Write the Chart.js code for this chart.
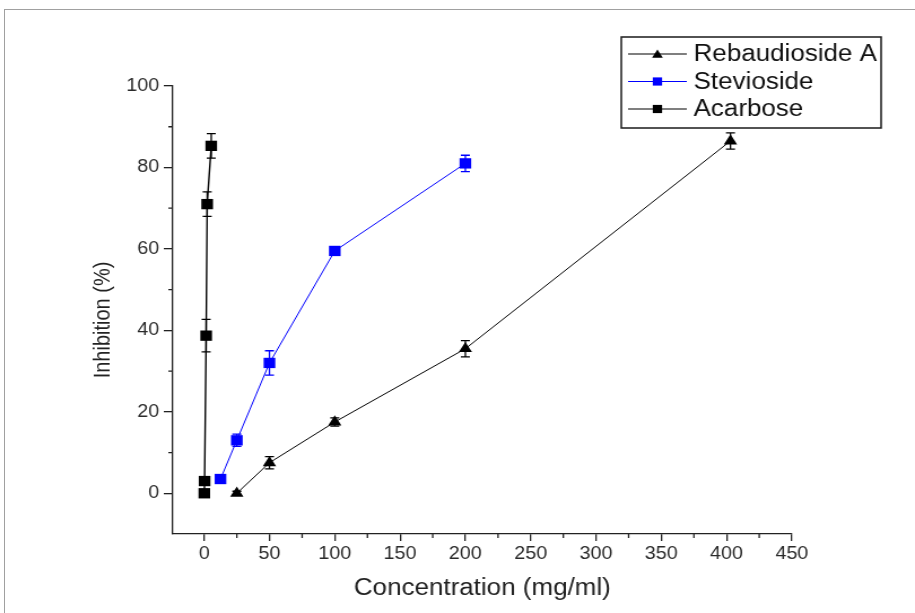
<!DOCTYPE html>
<html>
<head>
<meta charset="utf-8">
<script src="https://cdn.jsdelivr.net/npm/chart.js@4.4.0/dist/chart.umd.min.js"></script>
<style>
    html, body { margin: 0; padding: 0; background: #ffffff; overflow: hidden; }
    #wrap { position: relative; width: 915px; height: 613px; }
    /* 元画像は横に引き伸ばされているので、キャンバスも横に伸ばす */
    #inhibitionChart { position: absolute; left: 0; top: 0; transform: scaleX(1.1296); transform-origin: 0 0; }
    #frame { position: absolute; left: 4px; top: 9px; width: 920px; height: 620px;
             border-top: 1px solid #a0a0a0; border-left: 1px solid #a0a0a0; }
</style>
</head>
<body>
<div id="wrap">
    <canvas id="inhibitionChart" width="810" height="613"></canvas>
    <div id="frame"></div>
</div>
<script>

// Rebaudioside A
var rebaudiosideX = [25, 50, 100, 200, 403];
var rebaudiosideY = [0, 7.5, 17.5, 35.5, 86.5];
var rebaudiosideErr = [0.5, 1.5, 1, 2, 2];

// Stevioside
var steviosideX = [12.5, 25, 50, 100, 200];
var steviosideY = [3.5, 13, 32, 59.5, 81];
var steviosideErr = [0, 1.5, 3, 1, 2];

// Acarbose
var acarboseX = [0.1, 0.3, 1.5, 2.3, 5.4];
var acarboseY = [0, 3, 38.7, 71, 85.3];
var acarboseErr = [0, 0, 4, 3, 3];

var seriesNames = ["Rebaudioside A", "Stevioside", "Acarbose"];

// 目盛り
var xTicks = [0, 50, 100, 150, 200, 250, 300, 350, 400, 450];
var xMinorTicks = [25, 75, 125, 175, 225, 275, 325, 375, 425];
var yTicks = [0, 20, 40, 60, 80, 100];
var yMinorTicks = [10, 30, 50, 70, 90];

var fontFamily = "'Liberation Sans', Arial, sans-serif";
var axisColor = '#222222';

function toPoints(xs, ys) {
    var points = [];
    for (var i = 0; i < xs.length; i++) {
        points.push({ x: xs[i], y: ys[i] });
    }
    return points;
}

// 誤差棒
var errorBarPlugin = {
    id: 'errorBars',
    afterDatasetsDraw: function (chart) {
        var ctx = chart.ctx;
        var xScale = chart.scales.x;
        var yScale = chart.scales.y;
        chart.data.datasets.forEach(function (ds) {
            ctx.save();
            ctx.strokeStyle = ds.borderColor;
            ctx.lineWidth = 1.3;
            for (var i = 0; i < ds.data.length; i++) {
                var e = ds.errors[i];
                if (!e) continue;
                var px = xScale.getPixelForValue(ds.data[i].x);
                var top = yScale.getPixelForValue(ds.data[i].y + e);
                var bottom = yScale.getPixelForValue(ds.data[i].y - e);
                ctx.beginPath();
                ctx.moveTo(px, top);
                ctx.lineTo(px, bottom);
                ctx.moveTo(px - 4, top);
                ctx.lineTo(px + 4, top);
                ctx.moveTo(px - 4, bottom);
                ctx.lineTo(px + 4, bottom);
                ctx.stroke();
            }
            ctx.restore();
        });
    }
};

// 補助目盛り、縦軸タイトル、凡例
var decorPlugin = {
    id: 'decor',
    afterDraw: function (chart) {
        var ctx = chart.ctx;
        var xScale = chart.scales.x;
        var yScale = chart.scales.y;
        var area = chart.chartArea;

        ctx.save();
        ctx.strokeStyle = axisColor;
        ctx.lineWidth = 1.3;
        ctx.beginPath();
        xMinorTicks.forEach(function (v) {
            var px = xScale.getPixelForValue(v);
            ctx.moveTo(px, area.bottom);
            ctx.lineTo(px, area.bottom + 4);
        });
        yMinorTicks.forEach(function (v) {
            var py = yScale.getPixelForValue(v);
            ctx.moveTo(area.left, py);
            ctx.lineTo(area.left - 4, py);
        });
        ctx.stroke();

        // 縦軸タイトル
        ctx.save();
        ctx.translate(91, 320);
        ctx.rotate(-Math.PI / 2);
        ctx.fillStyle = '#222222';
        ctx.font = "20px " + fontFamily;
        ctx.textAlign = 'center';
        ctx.textBaseline = 'middle';
        ctx.fillText('Inhibition (%)', 0, 0);
        ctx.restore();

        // 凡例
        ctx.lineWidth = 1.5;
        ctx.strokeStyle = '#1a1a1a';
        ctx.strokeRect(550, 37, 230, 91);
        var rows = [54, 81.5, 109];
        chart.data.datasets.forEach(function (ds, i) {
            var y = rows[i];
            ctx.strokeStyle = ds.borderColor;
            ctx.lineWidth = 1.2;
            ctx.beginPath();
            ctx.moveTo(556, y);
            ctx.lineTo(608, y);
            ctx.stroke();
            ctx.fillStyle = ds.pointBackgroundColor;
            Chart.helpers.drawPoint(ctx, {
                pointStyle: ds.pointStyle,
                radius: ds.pointStyle === 'triangle' ? 5.5 : 5.8,
                rotation: 0,
                borderWidth: 0
            }, 582, y + (ds.pointStyle === 'triangle' ? 1 : 0));
            ctx.fillStyle = '#111111';
            ctx.font = "23px " + fontFamily;
            ctx.textBaseline = 'middle';
            ctx.textAlign = 'left';
            ctx.fillText(ds.label, 614, y + 1);
        });
        ctx.restore();
    }
};

var datasets = [
    {
        label: seriesNames[0],
        data: toPoints(rebaudiosideX, rebaudiosideY),
        errors: rebaudiosideErr,
        borderColor: '#000000',
        backgroundColor: '#000000',
        pointBackgroundColor: '#000000',
        borderWidth: 1,
        pointStyle: 'triangle',
        pointRadius: 6.8,
        pointBorderWidth: 0,
        showLine: true
    }, {
        label: seriesNames[1],
        data: toPoints(steviosideX, steviosideY),
        errors: steviosideErr,
        borderColor: '#0000ff',
        backgroundColor: '#0000ff',
        pointBackgroundColor: '#0000ff',
        borderWidth: 1,
        pointStyle: 'rect',
        pointRadius: 7.3,
        pointBorderWidth: 0,
        showLine: true
    }, {
        label: seriesNames[2],
        data: toPoints(acarboseX, acarboseY),
        errors: acarboseErr,
        borderColor: '#000000',
        backgroundColor: '#000000',
        pointBackgroundColor: '#000000',
        borderWidth: 1.4,
        pointStyle: 'rect',
        pointRadius: 7.3,
        pointBorderWidth: 0,
        showLine: true
    }
];

var options = {
    responsive: false,
    animation: false,
    devicePixelRatio: 1,
    layout: {
        padding: { left: 0, top: 86, right: 109, bottom: 0 }
    },
    plugins: {
        legend: { display: false },
        tooltip: { enabled: false }
    },
    scales: {
        x: {
            type: 'linear',
            min: -24,
            max: 450,
            afterBuildTicks: function (scale) {
                scale.ticks = xTicks.map(function (v) { return { value: v }; });
            },
            afterFit: function (scale) {
                scale.height = 79;
            },
            border: { display: true, color: axisColor, width: 1.3 },
            grid: { drawOnChartArea: false, tickLength: 7, color: axisColor, lineWidth: 1.3 },
            ticks: {
                padding: 3,
                color: '#2a2a2a',
                maxRotation: 0,
                font: { family: fontFamily, size: 17.5 }
            },
            title: {
                display: true,
                text: 'Concentration (mg/ml)',
                color: '#222222',
                padding: { top: 0, bottom: 11 },
                font: { family: fontFamily, size: 23 }
            }
        },
        y: {
            type: 'linear',
            min: -10,
            max: 100,
            afterBuildTicks: function (scale) {
                scale.ticks = yTicks.map(function (v) { return { value: v }; });
            },
            afterFit: function (scale) {
                scale.width = 153;
            },
            border: { display: true, color: axisColor, width: 1.3 },
            grid: { drawOnChartArea: false, tickLength: 8, color: axisColor, lineWidth: 1.3 },
            ticks: {
                padding: 4,
                color: '#2a2a2a',
                font: { family: fontFamily, size: 17.5 }
            },
            title: { display: false }
        }
    }
};

var myChart = new Chart(document.getElementById('inhibitionChart').getContext('2d'), {
    type: 'scatter',
    data: { datasets: datasets },
    options: options,
    plugins: [errorBarPlugin, decorPlugin]
});
</script>
</body>
</html>
